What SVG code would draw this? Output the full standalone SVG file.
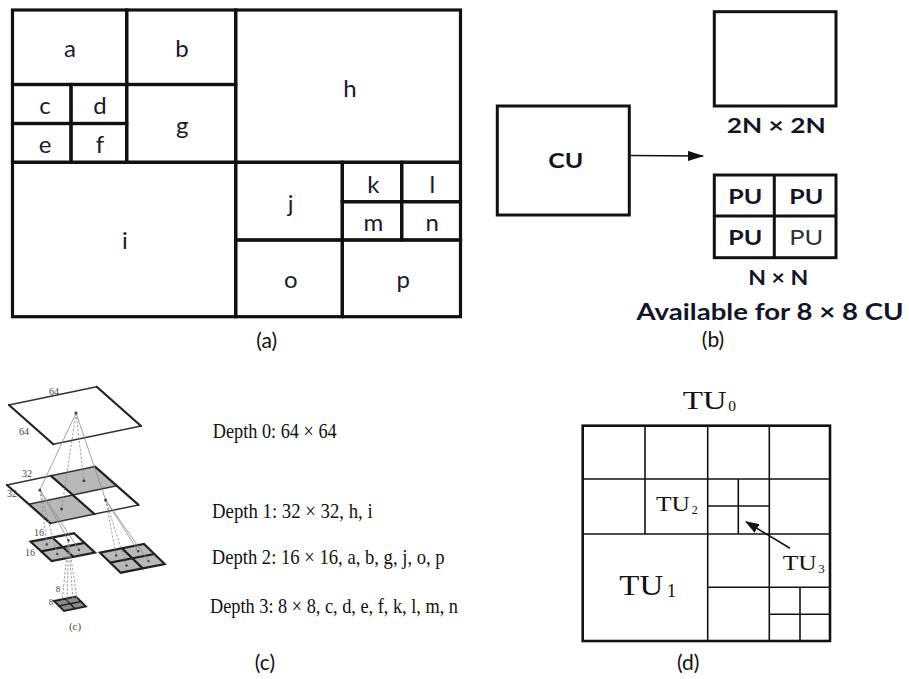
<svg xmlns="http://www.w3.org/2000/svg" width="909" height="679" viewBox="0 0 909 679">
<style>
.bg{fill:#fff}
.cell{fill:none;stroke:#111;stroke-width:3.2}
.lbl{font-family:Lato,"Open Sans","Liberation Sans",sans-serif;font-size:24px;fill:#1a1a2a;text-anchor:middle}
.cap{font-family:Lato,"Open Sans","Liberation Sans",sans-serif;font-size:21px;fill:#111;text-anchor:middle}
.bx{fill:none;stroke:#111;stroke-width:3}
.bt{font-family:Lato,"Open Sans","Liberation Sans",sans-serif;font-weight:bold;fill:#141428}
.pl{fill:#fff}
.sh{fill:#b8b8b8}
.thk{stroke:#222;stroke-width:2.2;fill:none;stroke-linecap:round}
.thn{stroke:#333;stroke-width:1.5;fill:none;stroke-linecap:round}
.cn{stroke:#8a8a8a;stroke-width:0.8;fill:none}
.cnd{stroke:#8a8a8a;stroke-width:0.8;fill:none;stroke-dasharray:2.5 1.5}
.dot{fill:#444}
.sm{font-family:"Liberation Serif","DejaVu Serif",serif;font-size:10px;fill:#444;text-anchor:middle}
.dep{font-family:"Liberation Serif","DejaVu Serif",serif;font-size:22px;fill:#111}
.tu{font-family:"Liberation Serif","DejaVu Serif",serif;fill:#111}
.dl{stroke:#111;stroke-width:1.6;fill:none}
.dout{stroke:#111;stroke-width:2.6;fill:none}
</style>
<defs>
<marker id="ah" markerWidth="16" markerHeight="10" refX="15" refY="5" orient="auto" markerUnits="userSpaceOnUse"><path d="M0,0 L16,5 L0,10 z" fill="#111"/></marker>
<marker id="ah2" markerWidth="14" markerHeight="10" refX="13" refY="5" orient="auto" markerUnits="userSpaceOnUse"><path d="M0,0 L14,5 L0,10 z" fill="#111"/></marker>
</defs>
<rect class="bg" x="0" y="0" width="909" height="679"/>

<!-- Panel (a) -->
<g id="panel-a">
<g id="cell-a"><rect class="cell" x="12.5" y="10" width="114.2" height="74.5"/><text class="lbl" x="70" y="57.3">a</text></g>
<g id="cell-b"><rect class="cell" x="126.7" y="10" width="109" height="74.5"/><text class="lbl" x="182" y="57.3">b</text></g>
<g id="cell-c"><rect class="cell" x="12.5" y="84.5" width="58.5" height="39"/><text class="lbl" x="45" y="114.3">c</text></g>
<g id="cell-d"><rect class="cell" x="71" y="84.5" width="55.7" height="39"/><text class="lbl" x="100" y="114.3">d</text></g>
<g id="cell-e"><rect class="cell" x="12.5" y="123.5" width="58.5" height="38.8"/><text class="lbl" x="45" y="152.7">e</text></g>
<g id="cell-f"><rect class="cell" x="71" y="123.5" width="55.7" height="38.8"/><text class="lbl" x="100" y="152.7">f</text></g>
<g id="cell-g"><rect class="cell" x="126.7" y="84.5" width="109" height="77.8"/><text class="lbl" x="182.3" y="134">g</text></g>
<g id="cell-h"><rect class="cell" x="235.7" y="10" width="224.8" height="152.3"/><text class="lbl" x="350" y="96.7">h</text></g>
<g id="cell-i"><rect class="cell" x="12.5" y="162.3" width="223.2" height="154.4"/><text class="lbl" x="125" y="249.3">i</text></g>
<g id="cell-j"><rect class="cell" x="235.7" y="162.3" width="106.6" height="77.7"/><text class="lbl" x="290.7" y="212">j</text></g>
<g id="cell-k"><rect class="cell" x="342.3" y="162.3" width="59.4" height="39.4"/><text class="lbl" x="373.3" y="192.7">k</text></g>
<g id="cell-l"><rect class="cell" x="401.7" y="162.3" width="58.8" height="39.4"/><text class="lbl" x="432.3" y="192.7">l</text></g>
<g id="cell-m"><rect class="cell" x="342.3" y="201.7" width="59.4" height="38.3"/><text class="lbl" x="373.3" y="231">m</text></g>
<g id="cell-n"><rect class="cell" x="401.7" y="201.7" width="58.8" height="38.3"/><text class="lbl" x="432.3" y="231">n</text></g>
<g id="cell-o"><rect class="cell" x="235.7" y="240" width="106.6" height="76.7"/><text class="lbl" x="290.7" y="288.3">o</text></g>
<g id="cell-p"><rect class="cell" x="342.3" y="240" width="118.2" height="76.7"/><text class="lbl" x="403.3" y="288.3">p</text></g>
<text class="cap" x="266.7" y="348">(a)</text>
</g>

<!-- Panel (b) -->
<g id="panel-b">
<g id="cu"><rect class="bx" x="497.3" y="106" width="132" height="109"/><text class="bt" x="548.3" y="168.3" font-size="21" textLength="35" lengthAdjust="spacingAndGlyphs">CU</text></g>
<g id="pu-2n"><rect class="bx" x="714.3" y="11.7" width="121.7" height="94.3"/><text class="bt" x="726.7" y="133.3" font-size="21" textLength="99" lengthAdjust="spacingAndGlyphs">2N × 2N</text></g>
<g id="pu-nn">
<rect class="bx" x="714.3" y="175" width="121.7" height="82.7"/>
<line class="bx" x1="774.3" y1="175" x2="774.3" y2="257.7"/>
<line class="bx" x1="714.3" y1="216" x2="836" y2="216"/>
<text class="bt" x="728.3" y="204" font-size="21" textLength="34" lengthAdjust="spacingAndGlyphs">PU</text>
<text class="bt" x="789.3" y="204" font-size="21" textLength="34" lengthAdjust="spacingAndGlyphs">PU</text>
<text class="bt" x="728.3" y="245" font-size="21" textLength="34" lengthAdjust="spacingAndGlyphs">PU</text>
<text class="bt" x="789.3" y="245" font-size="21" textLength="34" lengthAdjust="spacingAndGlyphs" style="font-weight:normal;fill:#333">PU</text>
<text class="bt" x="748.3" y="285" font-size="21" textLength="60" lengthAdjust="spacingAndGlyphs">N × N</text>
<text class="bt" x="636.5" y="320" font-size="23" textLength="267" lengthAdjust="spacingAndGlyphs">Available for 8 × 8  CU</text>
</g>
<g id="connectors-b"><line x1="630" y1="155.5" x2="703" y2="156" stroke="#111" stroke-width="1.6" marker-end="url(#ah)"/></g>
<text class="cap" x="713" y="347">(b)</text>
</g>

<!-- Panel (c) -->
<g id="panel-c">
<g id="depth0">
<polygon class="pl" points="9,405 96.7,386.7 141,426 53.3,444.3"/>
<line class="thn" x1="9" y1="405" x2="96.7" y2="386.7"/>
<line class="thn" x1="53.3" y1="444.3" x2="141" y2="426"/>
<line class="thk" x1="9" y1="405" x2="53.3" y2="444.3"/>
<line class="thk" x1="96.7" y1="386.7" x2="141" y2="426"/>
<text class="sm" x="54" y="395">64</text>
<text class="sm" x="24" y="435">64</text>
</g>
<g id="depth1">
<polygon class="pl" points="7,485 95,466.6 138.5,504.9 50.5,523.3"/>
<polygon class="sh" points="51,475.8 95,466.6 116.75,485.75 72.75,494.95"/>
<polygon class="sh" points="28.75,504.15 72.75,494.95 94.5,514.1 50.5,523.3"/>
<line class="thn" x1="7" y1="485" x2="95" y2="466.6"/>
<line class="thn" x1="28.75" y1="504.15" x2="116.75" y2="485.75"/>
<line class="thn" x1="50.5" y1="523.3" x2="138.5" y2="504.9"/>
<line class="thk" x1="7" y1="485" x2="50.5" y2="523.3"/>
<line class="thk" x1="51" y1="475.8" x2="94.5" y2="514.1"/>
<line class="thk" x1="95" y1="466.6" x2="138.5" y2="504.9"/>
<text class="sm" x="27" y="477">32</text>
<text class="sm" x="12" y="497">32</text>
</g>
<g id="depth2-left">
<polygon class="pl" points="30.7,541.7 74,533.3 95,552.6 51.7,561"/>
<polygon class="sh" points="30.7,541.7 52.35,537.5 62.85,546.65 41.2,551.35"/>
<polygon class="sh" points="41.2,551.35 62.85,546.65 73.35,556.8 51.7,561"/>
<polygon class="sh" points="62.85,546.65 84.5,542.95 95,552.6 73.35,556.8"/>
<polygon class="thk" points="30.7,541.7 74,533.3 95,552.6 51.7,561"/>
<line class="thk" x1="52.35" y1="537.5" x2="73.35" y2="556.8"/>
<line class="thk" x1="41.2" y1="551.35" x2="84.5" y2="542.95"/>
<text class="sm" x="39" y="536">16</text>
<text class="sm" x="30" y="556">16</text>
</g>
<g id="depth2-right">
<polygon class="sh" points="100,552.7 144,544 164.7,564 120.7,572.7"/>
<polygon class="thk" points="100,552.7 144,544 164.7,564 120.7,572.7"/>
<line class="thk" x1="122" y1="548.35" x2="142.7" y2="568.35"/>
<line class="thk" x1="110.35" y1="562.7" x2="154.35" y2="554"/>
</g>
<g id="depth3">
<polygon points="54,601 76,596.5 86,606.5 64,611" fill="#8c8c8c"/>
<polygon class="thk" points="54,601 76,596.5 86,606.5 64,611" style="stroke-width:1.8"/>
<line class="thk" x1="65" y1="598.75" x2="75" y2="608.75" style="stroke-width:1.6"/>
<line class="thk" x1="59" y1="606" x2="81" y2="601.5" style="stroke-width:1.6"/>
<text class="sm" x="58" y="592" style="font-size:9px">8</text>
<text class="sm" x="51" y="605" style="font-size:9px">8</text>
</g>
<g id="connectors-c">
<line class="cn" x1="76" y1="413" x2="39.9" y2="490"/>
<line class="cnd" x1="76" y1="413" x2="61.6" y2="509.1"/>
<line class="cnd" x1="76" y1="413" x2="83.9" y2="480.8"/>
<line class="cn" x1="76" y1="413" x2="105.6" y2="499.9"/>
<line class="cnd" x1="39.9" y1="490" x2="46.8" y2="544.4"/>
<line class="cn" x1="39.9" y1="490" x2="68.4" y2="540.2"/>
<line class="cnd" x1="39.9" y1="490" x2="57.3" y2="554.1"/>
<line class="cn" x1="39.9" y1="490" x2="79" y2="549.9"/>
<line class="cnd" x1="105.6" y1="499.9" x2="116.2" y2="555.5"/>
<line class="cn" x1="105.6" y1="499.9" x2="138.2" y2="551.2"/>
<line class="cnd" x1="105.6" y1="499.9" x2="126.5" y2="565.5"/>
<line class="cn" x1="105.6" y1="499.9" x2="148.5" y2="561.1"/>
<line class="cnd" x1="68.4" y1="540.2" x2="62" y2="602.4"/>
<line class="cnd" x1="68.4" y1="540.2" x2="73" y2="600.1"/>
<line class="cnd" x1="68.4" y1="540.2" x2="67" y2="607.4"/>
<line class="cnd" x1="68.4" y1="540.2" x2="78" y2="605.1"/>
</g>
<g id="dots-c">
<circle class="dot" cx="76" cy="413" r="1.6"/>
<circle class="dot" cx="39.9" cy="490" r="1.5"/>
<circle class="dot" cx="83.9" cy="480.8" r="1.5"/>
<circle class="dot" cx="61.6" cy="509.1" r="1.5"/>
<circle class="dot" cx="105.6" cy="499.9" r="1.5"/>
<circle class="dot" cx="46.8" cy="544.4" r="1.2"/>
<circle class="dot" cx="68.4" cy="540.2" r="1.2"/>
<circle class="dot" cx="57.3" cy="554.1" r="1.2"/>
<circle class="dot" cx="79" cy="549.9" r="1.2"/>
<circle class="dot" cx="116.2" cy="555.5" r="1.2"/>
<circle class="dot" cx="138.2" cy="551.2" r="1.2"/>
<circle class="dot" cx="126.5" cy="565.5" r="1.2"/>
<circle class="dot" cx="148.5" cy="561.1" r="1.2"/>
</g>
<text class="sm" x="75" y="630" style="font-size:11px">(c)</text>
<text class="dep" x="212.7" y="438" textLength="124" lengthAdjust="spacingAndGlyphs">Depth 0: 64 × 64</text>
<text class="dep" x="212" y="518" textLength="160.7" lengthAdjust="spacingAndGlyphs">Depth 1: 32 × 32,  h, i</text>
<text class="dep" x="211.7" y="564" textLength="233" lengthAdjust="spacingAndGlyphs">Depth 2: 16 × 16,  a, b, g, j, o, p</text>
<text class="dep" x="210" y="612.5" textLength="248" lengthAdjust="spacingAndGlyphs">Depth 3: 8 × 8, c, d, e, f, k, l, m, n</text>
<text class="cap" x="265" y="670">(c)</text>
</g>

<!-- Panel (d) -->
<g id="panel-d">
<g id="tu-grid">
<rect class="dout" x="582.7" y="425.7" width="247.3" height="215.3"/>
<line class="dl" x1="707.7" y1="425.7" x2="707.7" y2="641"/>
<line class="dl" x1="582.7" y1="534" x2="830" y2="534"/>
<line class="dl" x1="645" y1="425.7" x2="645" y2="534"/>
<line class="dl" x1="769.3" y1="425.7" x2="769.3" y2="641"/>
<line class="dl" x1="582.7" y1="479" x2="830" y2="479"/>
<line class="dl" x1="707.7" y1="587.3" x2="830" y2="587.3"/>
<line class="dl" x1="800" y1="587.3" x2="800" y2="641"/>
<line class="dl" x1="769.3" y1="614.3" x2="830" y2="614.3"/>
<line class="dl" x1="738.3" y1="479" x2="738.3" y2="534"/>
<line class="dl" x1="707.7" y1="506" x2="769.3" y2="506"/>
</g>
<g id="tu0"><text class="tu" x="682.7" y="409.3" font-size="26" textLength="44" lengthAdjust="spacingAndGlyphs">TU</text><text class="tu" x="728.3" y="411" font-size="15.5">0</text></g>
<g id="tu2"><text class="tu" x="656" y="510.7" font-size="20" textLength="34" lengthAdjust="spacingAndGlyphs">TU</text><text class="tu" x="691.7" y="513.5" font-size="12">2</text></g>
<g id="tu3"><text class="tu" x="782.7" y="570" font-size="20" textLength="34" lengthAdjust="spacingAndGlyphs">TU</text><text class="tu" x="818.3" y="573" font-size="13">3</text></g>
<g id="tu1"><text class="tu" x="619.3" y="595" font-size="30" textLength="44" lengthAdjust="spacingAndGlyphs">TU</text><text class="tu" x="666.7" y="597" font-size="19">1</text></g>
<g id="connectors-d"><line x1="790" y1="548.3" x2="746" y2="521.7" stroke="#111" stroke-width="1.6" marker-end="url(#ah2)"/></g>
<text class="cap" x="688.3" y="670">(d)</text>
</g>
</svg>
